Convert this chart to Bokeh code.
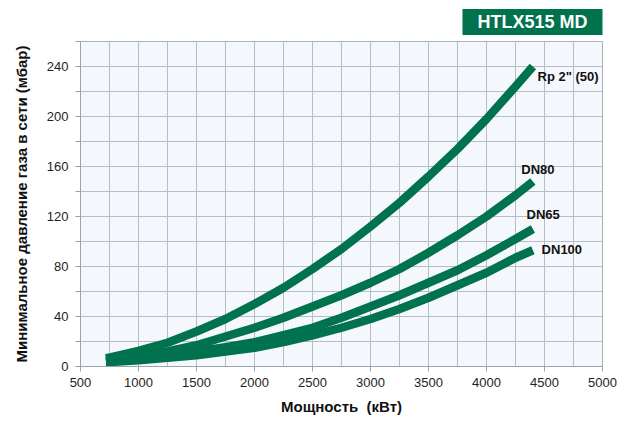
from bokeh.plotting import figure
from bokeh.models import Range1d, SingleIntervalTicker, Label
from bokeh.embed import file_html
from bokeh.resources import INLINE

# Data
power_kw = [720, 1000, 1250, 1500, 1750, 2000, 2250, 2500, 2750, 3000, 3250, 3500, 3750, 4000, 4250, 4400]
rp2_50 = [6.5, 12.5, 19, 28, 38, 50, 63, 78, 94, 112, 131, 152, 174, 198, 224, 240]
dn80 = [4.2, 8, 12, 17, 24, 31, 39, 48, 57, 67, 78, 91, 105, 120, 137, 148]
dn65 = [3.7, 6, 9, 12, 15.5, 19.5, 25, 31, 39, 48, 57, 67, 77, 89, 102, 110]
dn100 = [3.3, 5, 7, 9, 12, 15, 19.5, 25, 31, 38, 46, 55, 65, 75, 87, 93]
series_names = ['Rp 2" (50)', "DN80", "DN65", "DN100"]
label_pos = [(4440, 232), (4300, 158), (4345, 121.5), (4475, 94)]
chart_title = "HTLX515 MD"

x_ticks_interval = 500
y_ticks_interval = 40

GREEN = "#00724E"
FONT = "Liberation Sans"

p = figure(width=620, height=417, output_backend="svg", toolbar_location=None,
           x_range=Range1d(500, 5000), y_range=Range1d(0, 260),
           min_border_left=80, min_border_right=18, min_border_top=41, min_border_bottom=51)

p.title.text = chart_title
p.title.align = "right"
p.title.text_font = FONT
p.title.text_font_size = "18px"
p.title.text_font_style = "bold"
p.title.text_color = "white"
p.title.background_fill_color = GREEN
p.title.padding = (15, 3)
p.title.standoff = 13

p.background_fill_color = "#F4F8FC"
p.border_fill_color = "white"
p.outline_line_color = "#A9B1B9"

p.xaxis.ticker = SingleIntervalTicker(interval=x_ticks_interval, num_minor_ticks=2)
p.yaxis.ticker = SingleIntervalTicker(interval=y_ticks_interval, num_minor_ticks=2)

for g in (p.xgrid, p.ygrid):
    g.grid_line_color = "#B5BDC6"
    g.minor_grid_line_color = "#B5BDC6"
    g.grid_line_width = 1
    g.minor_grid_line_width = 1

for ax in (p.xaxis, p.yaxis):
    ax.axis_line_color = "#9AA3AB"
    ax.major_tick_line_color = "#9AA3AB"
    ax.minor_tick_line_color = "#9AA3AB"
    ax.major_tick_out = 5
    ax.major_tick_in = 0
    ax.minor_tick_in = 0
    ax.major_label_text_font = FONT
    ax.major_label_text_font_size = "13px"
    ax.major_label_text_color = "#1E1E1E"
    ax.axis_label_text_font = FONT
    ax.axis_label_text_font_style = "bold"
    ax.axis_label_text_font_size = "15px"
    ax.axis_label_text_color = "#111111"

p.xaxis.minor_tick_out = 0
p.yaxis.minor_tick_out = 5
p.xaxis.major_label_standoff = 6
p.yaxis.major_label_standoff = 7
p.xaxis.axis_label = "Мощность\u00a0 (кВт)"
p.yaxis.axis_label = "Минимальное давление газа в сети (мбар)"
p.xaxis.axis_label_standoff = 8
p.yaxis.axis_label_standoff = 14

for ys in (rp2_50, dn80, dn65, dn100):
    p.line(power_kw, ys, line_color=GREEN, line_width=8.5, line_cap="butt", line_join="round")

for name, (lx, ly) in zip(series_names, label_pos):
    p.add_layout(Label(x=lx, y=ly, text=name, text_font=FONT, text_font_size="13px",
                       text_font_style="bold", text_color="#111111",
                       text_align="left", text_baseline="middle"))

open("out.html", "w").write(file_html(p, INLINE))
